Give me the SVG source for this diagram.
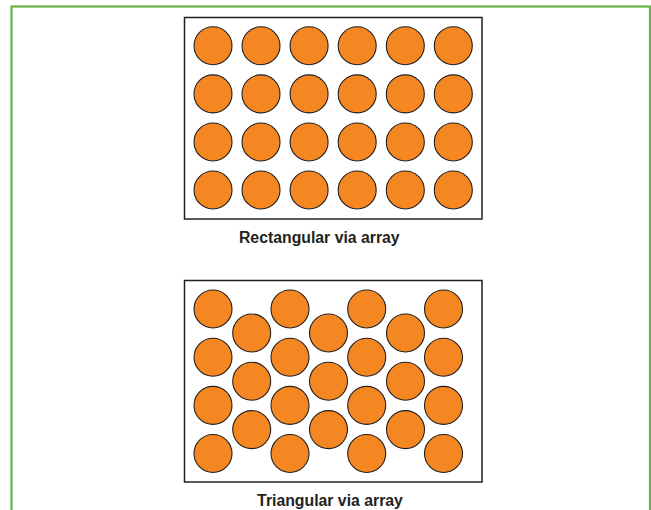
<svg xmlns="http://www.w3.org/2000/svg" width="651" height="510" viewBox="0 0 651 510">
<style>
.frame{fill:none;stroke:#66b245;stroke-width:2.2}
.box{fill:#fff;stroke:#231f20;stroke-width:1.5}
.via{fill:#f58722;stroke:#231f20;stroke-width:1.1}
.lbl{font-family:"Liberation Sans",Arial,Helvetica,sans-serif;font-weight:bold;font-size:15.8px;fill:#231f20;text-anchor:middle}
</style>
<rect class="frame" x="11.5" y="6.5" width="638.5" height="520"/>
<g id="rectangular">
<rect class="box" x="184.5" y="17.5" width="297.5" height="201.5"/>
<g id="rect-vias">
<circle class="via" cx="213" cy="45.8" r="19"/><circle class="via" cx="261" cy="45.8" r="19"/><circle class="via" cx="309.1" cy="45.8" r="19"/><circle class="via" cx="357.2" cy="45.8" r="19"/><circle class="via" cx="405.3" cy="45.8" r="19"/><circle class="via" cx="453.3" cy="45.8" r="19"/>
<circle class="via" cx="213" cy="93.9" r="19"/><circle class="via" cx="261" cy="93.9" r="19"/><circle class="via" cx="309.1" cy="93.9" r="19"/><circle class="via" cx="357.2" cy="93.9" r="19"/><circle class="via" cx="405.3" cy="93.9" r="19"/><circle class="via" cx="453.3" cy="93.9" r="19"/>
<circle class="via" cx="213" cy="142" r="19"/><circle class="via" cx="261" cy="142" r="19"/><circle class="via" cx="309.1" cy="142" r="19"/><circle class="via" cx="357.2" cy="142" r="19"/><circle class="via" cx="405.3" cy="142" r="19"/><circle class="via" cx="453.3" cy="142" r="19"/>
<circle class="via" cx="213" cy="190" r="19"/><circle class="via" cx="261" cy="190" r="19"/><circle class="via" cx="309.1" cy="190" r="19"/><circle class="via" cx="357.2" cy="190" r="19"/><circle class="via" cx="405.3" cy="190" r="19"/><circle class="via" cx="453.3" cy="190" r="19"/>
</g>
<text class="lbl" x="319.3" y="243.2">Rectangular via array</text>
</g>
<g id="triangular">
<rect class="box" x="184.5" y="280.5" width="297.5" height="201.5"/>
<g id="tri-vias">
<circle class="via" cx="213" cy="309" r="19"/><circle class="via" cx="290" cy="309" r="19"/><circle class="via" cx="366.7" cy="309" r="19"/><circle class="via" cx="443.5" cy="309" r="19"/>
<circle class="via" cx="213" cy="357.2" r="19"/><circle class="via" cx="290" cy="357.2" r="19"/><circle class="via" cx="366.7" cy="357.2" r="19"/><circle class="via" cx="443.5" cy="357.2" r="19"/>
<circle class="via" cx="213" cy="405.4" r="19"/><circle class="via" cx="290" cy="405.4" r="19"/><circle class="via" cx="366.7" cy="405.4" r="19"/><circle class="via" cx="443.5" cy="405.4" r="19"/>
<circle class="via" cx="213" cy="453.5" r="19"/><circle class="via" cx="290" cy="453.5" r="19"/><circle class="via" cx="366.7" cy="453.5" r="19"/><circle class="via" cx="443.5" cy="453.5" r="19"/>
<circle class="via" cx="251.7" cy="333" r="19"/><circle class="via" cx="328.5" cy="333" r="19"/><circle class="via" cx="405.5" cy="333" r="19"/>
<circle class="via" cx="251.7" cy="381.2" r="19"/><circle class="via" cx="328.5" cy="381.2" r="19"/><circle class="via" cx="405.5" cy="381.2" r="19"/>
<circle class="via" cx="251.7" cy="429.6" r="19"/><circle class="via" cx="328.5" cy="429.6" r="19"/><circle class="via" cx="405.5" cy="429.6" r="19"/>
</g>
<text class="lbl" x="330" y="506.3">Triangular via array</text>
</g>
</svg>
